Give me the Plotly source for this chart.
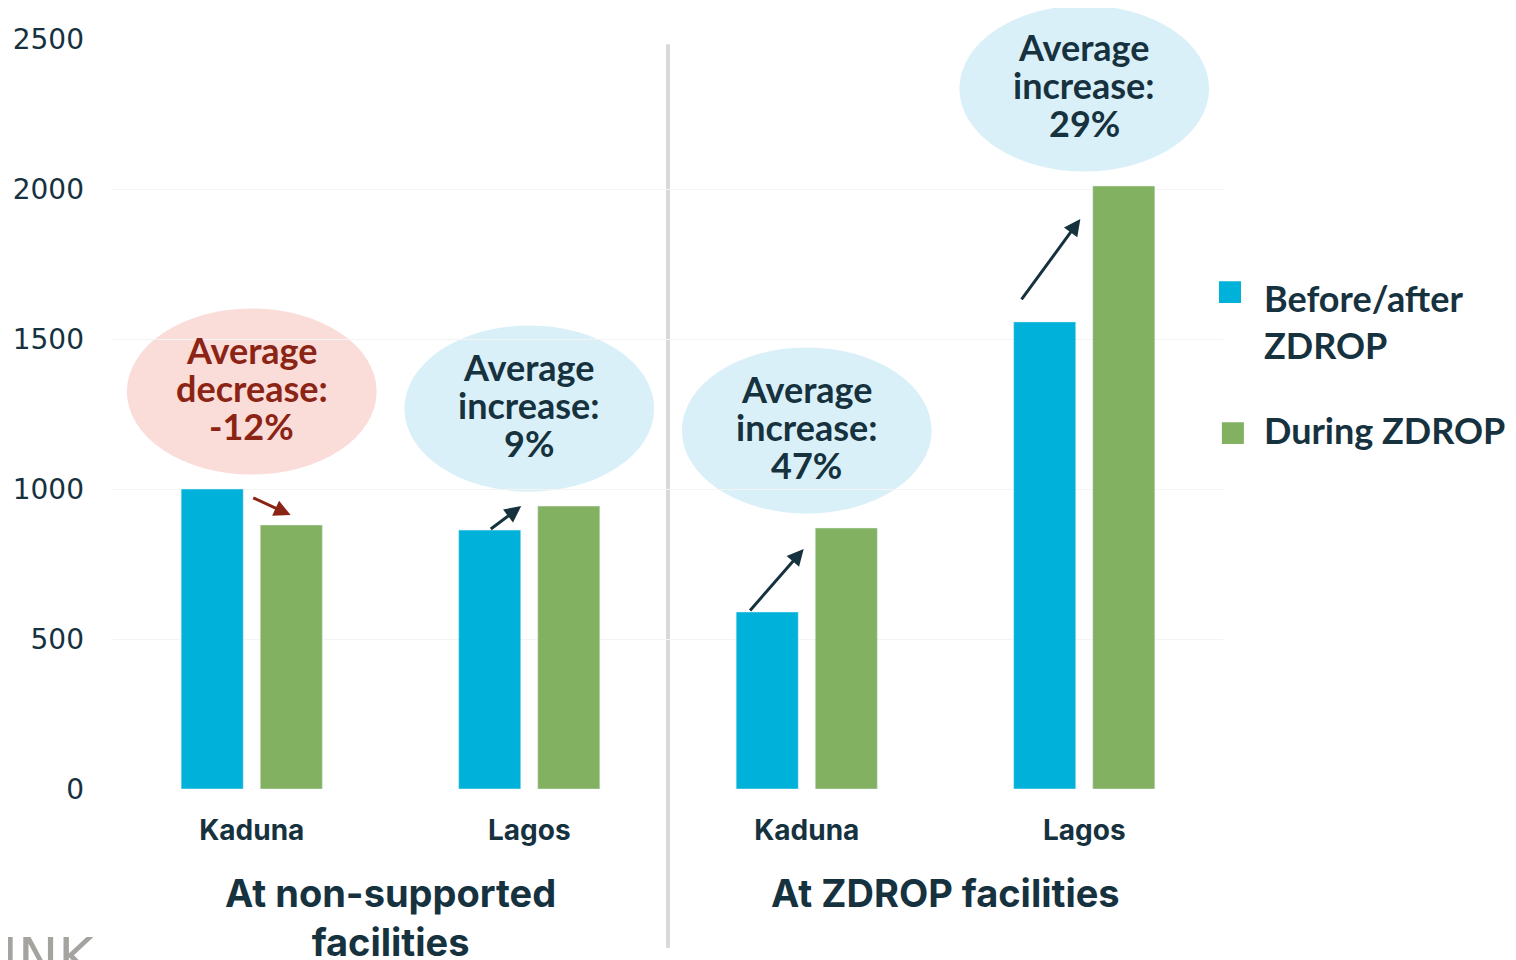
import plotly.graph_objects as go

# data
sites = ["Kaduna", "Lagos", "Kaduna", "Lagos"]
groups = ["At non-supported<br>facilities", "At ZDROP facilities"]
before = [1000, 863, 590, 1557]
during = [880, 943, 870, 2010]
pct_change = [-12, 9, 47, 29]
series_names = ["Before/after<br>ZDROP", "During ZDROP"]

BLUE = "#00b2da"
GREEN = "#83b162"
NAVY = "#17323f"
RED = "#8c2415"
PINK_FILL = "#fadcd8"
BLUE_FILL = "#daf0f8"
FONT = "Lato"
LABEL_FONT = "Inter"
Y_MAX = 2500

x = list(range(len(sites)))

fig = go.Figure()
fig.add_trace(go.Bar(x=x, y=before, name=series_names[0], marker_color=BLUE, showlegend=False))
fig.add_trace(go.Bar(x=x, y=during, name=series_names[1], marker_color=GREEN, showlegend=False))

shapes = []
annotations = []

# divider between the two facility groups
shapes.append(dict(type="line", xref="x", yref="paper", x0=1.5, x1=1.5, y0=-0.212, y1=0.993,
                   line=dict(color="#d9d9d9", width=4), layer="below"))

# callout bubbles with the average change (y in paper units so the top one is not clipped)
for i, pct in enumerate(pct_change):
    cy = max(before[i], during[i]) + 325
    decrease = pct < 0
    fill = PINK_FILL if decrease else BLUE_FILL
    tcol = RED if decrease else NAVY
    shapes.append(dict(type="circle", xref="x", yref="paper", x0=i - 0.45, x1=i + 0.45,
                       y0=(cy - 277) / Y_MAX, y1=(cy + 277) / Y_MAX,
                       fillcolor=fill, line=dict(width=0), layer="below"))
    lines = ["Average", "decrease:" if decrease else "increase:", f"{pct}%"]
    for k, txt in enumerate(lines):
        annotations.append(dict(x=i, y=cy, xref="x", yref="y", text=txt, showarrow=False,
                                yshift=(1 - k) * 38 + 4, font=dict(family=FONT, size=36, color=tcol,
                                                                    weight="bold")))

# arrows from before-bar to during-bar (x offset, y offset) for tail and head
arrow_offsets = [((0.0, -27), (0.14, 33)), ((-0.144, 0), (-0.029, 0)),
                 ((-0.209, 0), (-0.011, -70)), ((-0.23, 70), (-0.014, -110))]
for i, ((tx, ty), (hx, hy)) in enumerate(arrow_offsets):
    col = RED if pct_change[i] < 0 else NAVY
    annotations.append(dict(x=i + hx, y=during[i] + hy, ax=i + tx, ay=before[i] + ty,
                            xref="x", yref="y", axref="x", ayref="y", text="", showarrow=True,
                            arrowhead=2, arrowsize=1.1, arrowwidth=3, arrowcolor=col, standoff=0))

# group labels under the site names
for g, txt in enumerate(groups):
    annotations.append(dict(x=2 * g + 0.5, y=-0.105, xref="x", yref="paper",
                            text=txt, showarrow=False, yanchor="top",
                            font=dict(family=LABEL_FONT, size=38, color=NAVY, weight="bold")))

# hand-drawn legend with large swatches
legend_items = [(series_names[0], BLUE, 0.677, 0.623, 0.9964),
                (series_names[1], GREEN, 0.489, 0.479, 0.999)]
for name, col, top, ty, sx in legend_items:
    shapes.append(dict(type="rect", xref="paper", yref="paper", x0=sx, x1=sx + 0.0198,
                       y0=top - 0.029, y1=top, fillcolor=col, line=dict(width=0)))
    annotations.append(dict(x=1.0378, y=ty, xref="paper", yref="paper", text=name, showarrow=False,
                            xanchor="left", yanchor="middle", align="left", xshift=-3,
                            font=dict(family=FONT, size=36, color=NAVY, weight="bold")))

# partially cropped logo at the bottom left
annotations.append(dict(x=0, y=-0.18, xref="paper", yref="paper", text="INK", showarrow=False,
                        xanchor="left", yanchor="top", xshift=-113,
                        font=dict(family="DejaVu Sans", size=54, color="#a5a3a0")))

fig.update_layout(
    width=1508, height=952,
    margin=dict(l=105, r=293, t=31, b=171, autoexpand=False),
    plot_bgcolor="white", paper_bgcolor="white",
    barmode="group", bargap=0.43, bargroupgap=0.215,
    shapes=shapes, annotations=annotations,
    xaxis=dict(tickmode="array", tickvals=x, ticktext=sites, range=[-0.5, len(sites) - 0.5],
               showgrid=False, zeroline=False, showline=False, ticks="", ticklabelstandoff=22,
               automargin=False,
               tickfont=dict(family=LABEL_FONT, size=28, color=NAVY, weight="bold")),
    yaxis=dict(range=[0, Y_MAX], dtick=500, showgrid=True, gridcolor="#f4f4f4", gridwidth=1,
               zeroline=False, showline=False, ticks="", ticklabelstandoff=28, automargin=False,
               tickfont=dict(family="DejaVu Sans", size=28, color=NAVY)),
)

fig.write_html("out.html")
